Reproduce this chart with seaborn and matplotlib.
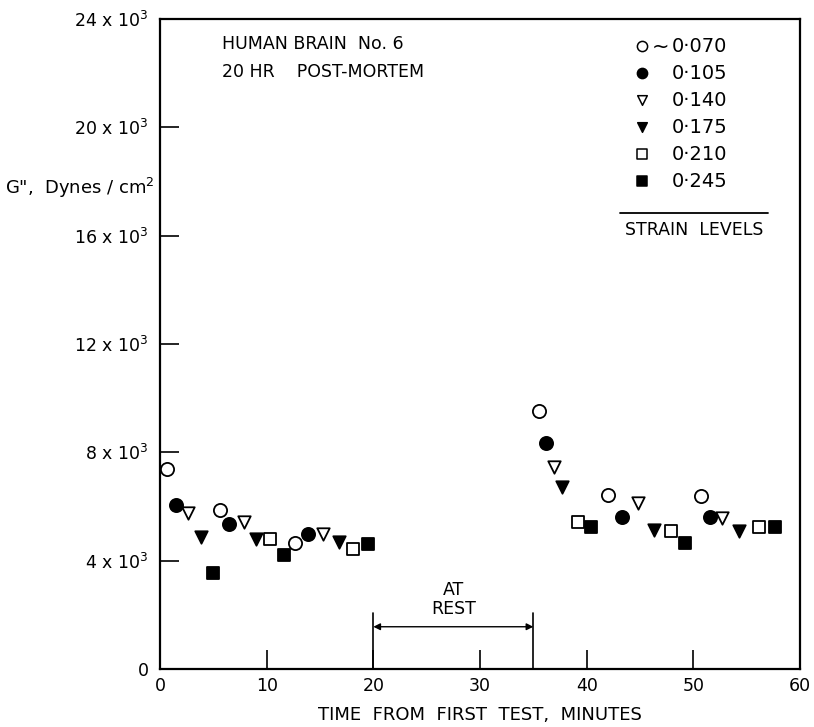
import matplotlib
matplotlib.use("Agg")
import matplotlib.pyplot as plt
import seaborn as sns
import pandas as pd

# ---- data ----
strain_levels = ["0·070", "0·105", "0·140", "0·175", "0·210", "0·245"]
t_070 = [0.7, 5.6, 12.7, 35.5, 42.0, 50.7]
g_070 = [7370, 5870, 4650, 9520, 6410, 6390]
t_105 = [1.5, 6.5, 13.9, 36.2, 43.3, 51.6]
g_105 = [6040, 5370, 4980, 8360, 5620, 5620]
t_140 = [2.6, 7.9, 15.3, 36.9, 44.8, 52.7]
g_140 = [5750, 5440, 4980, 7450, 6140, 5560]
t_175 = [3.8, 9.0, 16.8, 37.7, 46.3, 54.3]
g_175 = [4890, 4790, 4700, 6730, 5130, 5100]
t_210 = [10.3, 18.1, 39.2, 47.9, 56.2]
g_210 = [4800, 4420, 5440, 5110, 5250]
t_245 = [5.0, 11.6, 19.5, 40.4, 49.2, 57.7]
g_245 = [3560, 4200, 4600, 5230, 4660, 5250]

x_ticks = [0, 10, 20, 30, 40, 50, 60]
y_ticks = [0, 4000, 8000, 12000, 16000, 20000, 24000]
y_tick_labels = ["0", r"4 x 10$^3$", r"8 x 10$^3$", r"12 x 10$^3$",
                 r"16 x 10$^3$", r"20 x 10$^3$", r"24 x 10$^3$"]
rest_start, rest_end = 20, 35

series = [
    (t_070, g_070, "o", "white", 90),
    (t_105, g_105, "o", "black", 90),
    (t_140, g_140, "v", "white", 80),
    (t_175, g_175, "v", "black", 80),
    (t_210, g_210, "s", "white", 70),
    (t_245, g_245, "s", "black", 70),
]

sns.set_theme(style="white")
plt.rcParams["font.family"] = ["DejaVu Sans"]
plt.rcParams["mathtext.fontset"] = "dejavusans"
plt.rcParams["text.color"] = "black"

fig = plt.figure(figsize=(8.14, 7.27), dpi=100)
ax = fig.add_axes([160 / 814, 58 / 727, 640 / 814, 650 / 727])

for (t, g, m, fc, s), lvl in zip(series, strain_levels):
    df = pd.DataFrame({"t": t, "g": g})
    sns.scatterplot(data=df, x="t", y="g", marker=m, s=s, facecolor=fc,
                    edgecolor="black", linewidth=1.3, ax=ax, legend=False,
                    zorder=3)

ax.set_xlim(0, 60)
ax.set_ylim(0, 24000)
ax.set_xticks(x_ticks)
ax.set_yticks(y_ticks)
ax.set_yticklabels(y_tick_labels)
ax.tick_params(axis="both", direction="in", length=14, width=1.2,
               labelsize=12.5, colors="black", labelcolor="black",
               bottom=True, left=True, top=False, right=False)
ax.tick_params(axis="y", pad=8)
ax.tick_params(axis="x", pad=6)
ax.set_xlabel("TIME  FROM  FIRST  TEST,  MINUTES", fontsize=13,
              labelpad=8, color="black")
ax.set_ylabel("")
for sp in ax.spines.values():
    sp.set_color("black")
    sp.set_linewidth(1.6)

# y-axis label placed horizontally at left
fig.text(5 / 814, 1 - 188 / 727, "G\",  Dynes / cm$^2$", fontsize=13,
         ha="left", va="center", color="black")

# AT REST annotation
ax.plot([rest_start, rest_start], [0, 2070], color="black", lw=1.2)
ax.plot([rest_end, rest_end], [0, 2070], color="black", lw=1.2)
ax.annotate("", xy=(rest_start, 1560), xytext=(rest_end, 1560),
            arrowprops=dict(arrowstyle="<|-|>", color="black", lw=1.0,
                            mutation_scale=10, shrinkA=0, shrinkB=0))
ax.text((rest_start + rest_end) / 2, 1900, "AT\nREST", ha="center",
        va="bottom", fontsize=12.5, linespacing=1.05, color="black")

# Title text
ax.text(0.097, 0.962, "HUMAN BRAIN  No. 6", transform=ax.transAxes,
        fontsize=12.5, ha="left", va="center", color="black")
ax.text(0.097, 0.918, "20 HR    POST-MORTEM", transform=ax.transAxes,
        fontsize=12.5, ha="left", va="center", color="black")

# Legend (hand laid out)
y0 = 0.958
dy = 0.0415
for i, ((t, g, m, fc, s), lvl) in enumerate(zip(series, strain_levels)):
    yy = y0 - i * dy
    ax.scatter([0.753], [yy], transform=ax.transAxes, marker=m, s=s * 0.6,
               facecolor=fc, edgecolor="black", linewidth=1.1, zorder=4,
               clip_on=False)
    ax.text(0.800, yy, lvl, transform=ax.transAxes, fontsize=14,
            ha="left", va="center", color="black")
ax.text(0.782, y0, "~", transform=ax.transAxes, fontsize=15,
        ha="center", va="center", color="black")
ax.plot([0.719, 0.95], [0.7015, 0.7015], transform=ax.transAxes,
        color="black", lw=1.3)
ax.text(0.834, 0.675, "STRAIN  LEVELS", transform=ax.transAxes,
        fontsize=12.5, ha="center", va="center", color="black")

fig.savefig("out.png", dpi=100, facecolor="white")
